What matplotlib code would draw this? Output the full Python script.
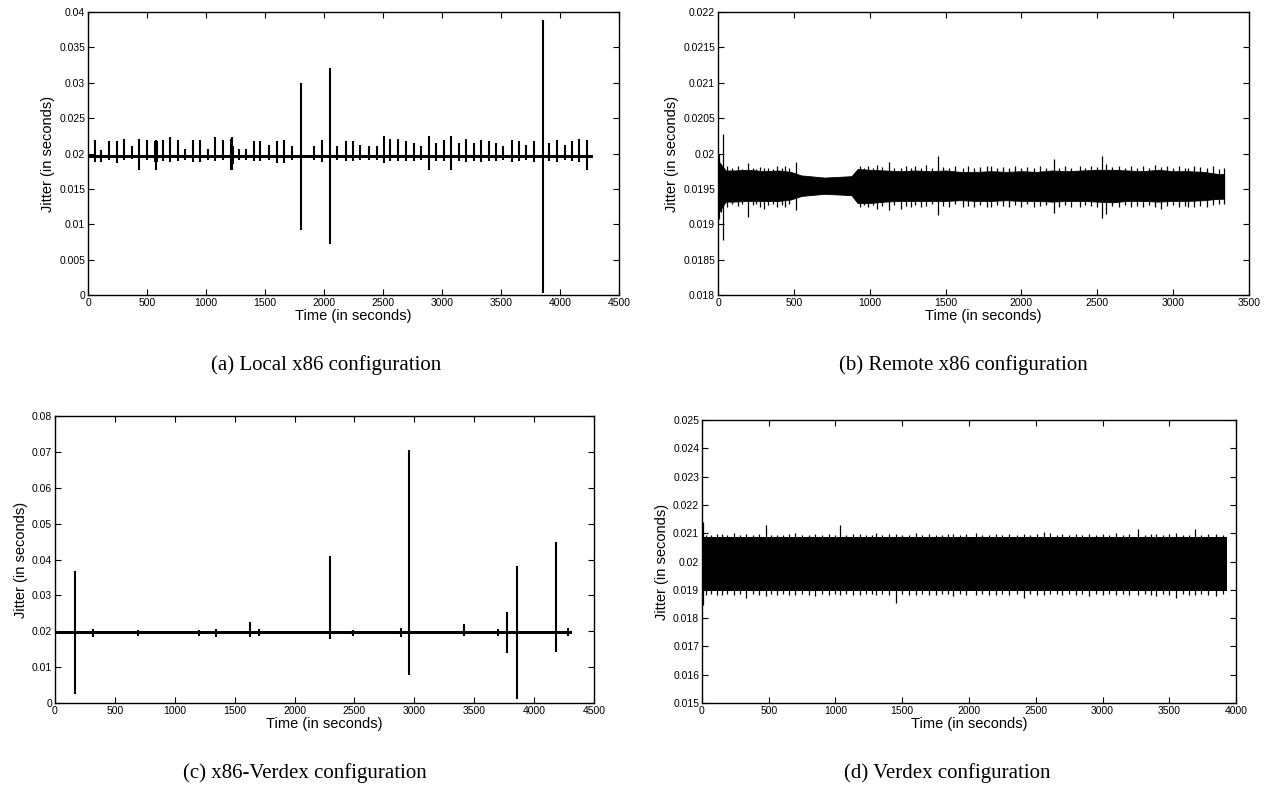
import matplotlib
matplotlib.use("Agg")
import matplotlib.pyplot as plt

W, H = 1266, 785

# ---- (a) Local x86 configuration ----
a_end = 4280
a_base_lo = 0.01940
a_base_hi = 0.01978
a_spike_t = [56, 113, 181, 243, 308, 373, 432, 503, 566, 576, 586, 633, 698, 760, 825,
             890, 952, 1014, 1076, 1144, 1212, 1220, 1228, 1277, 1342, 1404, 1460, 1531,
             1602, 1664, 1729, 1805, 1912, 1983, 2048, 2110, 2186, 2243, 2308, 2379,
             2449, 2506, 2562, 2627, 2698, 2760, 2822, 2890, 2946, 3014, 3079, 3147,
             3206, 3270, 3330, 3395, 3460, 3520, 3590, 3650, 3715, 3780, 3852, 3910,
             3975, 4040, 4100, 4165, 4230]
a_spike_hi = [0.02196, 0.02054, 0.02172, 0.02172, 0.02205, 0.02101, 0.02205, 0.02196,
              0.02180, 0.02196, 0.02170, 0.02196, 0.02228, 0.02196, 0.02068, 0.02196,
              0.02196, 0.02068, 0.02228, 0.02196, 0.02200, 0.02228, 0.02100, 0.02068,
              0.02068, 0.02172, 0.02172, 0.02125, 0.02172, 0.02196, 0.02101, 0.03000,
              0.02101, 0.02196, 0.03210, 0.02101, 0.02172, 0.02172, 0.02125, 0.02101,
              0.02101, 0.02252, 0.02205, 0.02205, 0.02172, 0.02148, 0.02101, 0.02243,
              0.02148, 0.02196, 0.02243, 0.02148, 0.02205, 0.02150, 0.02196, 0.02172,
              0.02148, 0.02101, 0.02196, 0.02172, 0.02125, 0.02172, 0.03880, 0.02148,
              0.02196, 0.02125, 0.02172, 0.02205, 0.02196]
a_spike_lo = [0.01875, 0.01875, 0.01913, 0.01866, 0.01913, 0.01922, 0.01762, 0.01913,
              0.01875, 0.01762, 0.01875, 0.01900, 0.01875, 0.01900, 0.01910, 0.01875,
              0.01875, 0.01910, 0.01900, 0.01913, 0.01762, 0.01762, 0.01850, 0.01910,
              0.01910, 0.01900, 0.01900, 0.01910, 0.01866, 0.01866, 0.01910, 0.00923,
              0.01910, 0.01875, 0.00716, 0.01910, 0.01900, 0.01900, 0.01910, 0.01910,
              0.01910, 0.01866, 0.01900, 0.01900, 0.01900, 0.01900, 0.01910, 0.01762,
              0.01900, 0.01900, 0.01762, 0.01900, 0.01875, 0.01900, 0.01875, 0.01900,
              0.01900, 0.01910, 0.01875, 0.01900, 0.01910, 0.01875, 0.00030, 0.01900,
              0.01875, 0.01910, 0.01900, 0.01875, 0.01762]

# ---- (b) Remote x86 configuration ----
b_t = [0, 50, 100, 200, 300, 400, 480, 550, 600, 700, 800, 880, 920, 1000, 1100, 1200,
       1300, 1400, 1500, 1600, 1700, 1800, 1900, 2000, 2100, 2200, 2300, 2400, 2500,
       2600, 2700, 2800, 2900, 3000, 3100, 3200, 3300, 3336]
b_hi = [0.01990, 0.01976, 0.01976, 0.01977, 0.01975, 0.01976, 0.01974, 0.01969, 0.01968,
        0.01966, 0.01967, 0.01968, 0.01978, 0.01977, 0.01976, 0.01975, 0.01976, 0.01975,
        0.01976, 0.01974, 0.01974, 0.01975, 0.01974, 0.01975, 0.01974, 0.01976, 0.01975,
        0.01976, 0.01977, 0.01977, 0.01976, 0.01975, 0.01977, 0.01975, 0.01975, 0.01974,
        0.01971, 0.01971]
b_lo = [0.01915, 0.01932, 0.01932, 0.01933, 0.01933, 0.01933, 0.01935, 0.01940, 0.01941,
        0.01943, 0.01942, 0.01941, 0.01930, 0.01930, 0.01932, 0.01933, 0.01933, 0.01933,
        0.01933, 0.01934, 0.01933, 0.01933, 0.01934, 0.01933, 0.01933, 0.01932, 0.01933,
        0.01933, 0.01932, 0.01931, 0.01933, 0.01933, 0.01932, 0.01933, 0.01933, 0.01934,
        0.01936, 0.01936]
b_spike_t = [8, 18, 35, 60, 90, 130, 160, 200, 230, 250, 280, 300, 330, 360, 390, 420,
             440, 470, 515, 935, 960, 990, 1020, 1050, 1080, 1125, 1160, 1205, 1240,
             1270, 1300, 1340, 1370, 1410, 1448, 1480, 1520, 1560, 1615, 1650, 1690,
             1730, 1770, 1800, 1840, 1880, 1920, 1960, 2000, 2040, 2080, 2120, 2160,
             2213, 2250, 2290, 2330, 2385, 2420, 2460, 2500, 2533, 2560, 2600, 2640,
             2680, 2720, 2760, 2800, 2840, 2880, 2920, 2960, 3000, 3040, 3080, 3100,
             3140, 3180, 3220, 3260, 3300, 3333]
b_spike_hi = [0.02000, 0.01985, 0.02028, 0.01983, 0.01980, 0.01982, 0.01978, 0.01986,
              0.01980, 0.01978, 0.01981, 0.01979, 0.01980, 0.01978, 0.01982, 0.01980,
              0.01982, 0.01979, 0.01988, 0.01983, 0.01980, 0.01982, 0.01979, 0.01984,
              0.01981, 0.01988, 0.01980, 0.01980, 0.01983, 0.01979, 0.01982, 0.01980,
              0.01984, 0.01979, 0.01996, 0.01981, 0.01979, 0.01983, 0.01980, 0.01982,
              0.01979, 0.01981, 0.01983, 0.01982, 0.01979, 0.01981, 0.01980, 0.01983,
              0.01979, 0.01981, 0.01980, 0.01982, 0.01979, 0.01992, 0.01980, 0.01983,
              0.01979, 0.01982, 0.01980, 0.01983, 0.01981, 0.01996, 0.01985, 0.01981,
              0.01983, 0.01979, 0.01982, 0.01980, 0.01983, 0.01979, 0.01984, 0.01981,
              0.01983, 0.01979, 0.01982, 0.01980, 0.01980, 0.01983, 0.01981, 0.01979,
              0.01982, 0.01978, 0.01980]
b_spike_lo = [0.01908, 0.01918, 0.01878, 0.01925, 0.01928, 0.01926, 0.01929, 0.01910,
              0.01927, 0.01928, 0.01925, 0.01922, 0.01927, 0.01928, 0.01925, 0.01927,
              0.01925, 0.01928, 0.01920, 0.01925, 0.01927, 0.01924, 0.01927, 0.01922,
              0.01926, 0.01920, 0.01927, 0.01922, 0.01926, 0.01924, 0.01927, 0.01925,
              0.01926, 0.01928, 0.01913, 0.01926, 0.01925, 0.01928, 0.01925, 0.01926,
              0.01924, 0.01927, 0.01925, 0.01925, 0.01927, 0.01926, 0.01924, 0.01927,
              0.01925, 0.01928, 0.01925, 0.01926, 0.01927, 0.01916, 0.01925, 0.01927,
              0.01924, 0.01925, 0.01927, 0.01926, 0.01924, 0.01909, 0.01915, 0.01926,
              0.01925, 0.01927, 0.01924, 0.01926, 0.01925, 0.01927, 0.01925, 0.01922,
              0.01926, 0.01927, 0.01924, 0.01926, 0.01925, 0.01924, 0.01926, 0.01925,
              0.01927, 0.01928, 0.01928]

# ---- (c) x86-Verdex configuration ----
c_end = 4314
c_base_lo = 0.01920
c_base_hi = 0.02000
c_spike_t = [170, 320, 690, 1200, 1340, 1625, 1700, 2299, 2490, 2885, 2952, 3412, 3700,
             3770, 3853, 4180, 4280]
c_spike_hi = [0.0368, 0.0205, 0.0203, 0.0204, 0.0206, 0.0225, 0.0205, 0.0410, 0.0204,
              0.0210, 0.0704, 0.0221, 0.0206, 0.0255, 0.0382, 0.0448, 0.0210]
c_spike_lo = [0.0025, 0.0185, 0.0188, 0.0187, 0.0185, 0.0185, 0.0188, 0.0178, 0.0187,
              0.0185, 0.0079, 0.0188, 0.0186, 0.0139, 0.0011, 0.0141, 0.0186]

# ---- (d) Verdex configuration ----
d_end = 3935
d_band_lo = 0.01895
d_band_hi = 0.02085
d_spike_t = [9, 30, 70, 110, 150, 190, 240, 285, 330, 380, 430, 480, 520, 560, 610, 650,
             700, 750, 800, 850, 900, 950, 1000, 1037, 1080, 1130, 1180, 1230, 1270,
             1300, 1350, 1400, 1450, 1500, 1550, 1600, 1650, 1700, 1750, 1800, 1840,
             1880, 1930, 1980, 2050, 2100, 2150, 2200, 2250, 2300, 2360, 2413, 2460,
             2510, 2560, 2610, 2660, 2700, 2750, 2800, 2850, 2900, 2950, 3000, 3050,
             3100, 3150, 3200, 3269, 3320, 3360, 3400, 3450, 3500, 3550, 3600, 3650,
             3691, 3740, 3790, 3850, 3900]
d_spike_hi = [0.02141, 0.02095, 0.02092, 0.02096, 0.02098, 0.02093, 0.02100, 0.02094,
              0.02097, 0.02092, 0.02096, 0.02130, 0.02093, 0.02095, 0.02092, 0.02097,
              0.02100, 0.02093, 0.02095, 0.02097, 0.02092, 0.02096, 0.02094, 0.02128,
              0.02093, 0.02096, 0.02098, 0.02092, 0.02095, 0.02100, 0.02093, 0.02097,
              0.02097, 0.02092, 0.02095, 0.02100, 0.02093, 0.02096, 0.02095, 0.02092,
              0.02097, 0.02098, 0.02093, 0.02096, 0.02102, 0.02093, 0.02095, 0.02097,
              0.02092, 0.02096, 0.02094, 0.02098, 0.02093, 0.02096, 0.02105, 0.02100,
              0.02093, 0.02098, 0.02094, 0.02096, 0.02092, 0.02097, 0.02093, 0.02096,
              0.02094, 0.02100, 0.02092, 0.02096, 0.02116, 0.02093, 0.02096, 0.02098,
              0.02092, 0.02096, 0.02100, 0.02093, 0.02095, 0.02114, 0.02093, 0.02096,
              0.02097, 0.02092]
d_spike_lo = [0.01845, 0.01880, 0.01886, 0.01883, 0.01882, 0.01886, 0.01880, 0.01884,
              0.01870, 0.01886, 0.01883, 0.01878, 0.01885, 0.01882, 0.01886, 0.01883,
              0.01880, 0.01885, 0.01883, 0.01878, 0.01886, 0.01883, 0.01885, 0.01882,
              0.01885, 0.01883, 0.01880, 0.01886, 0.01884, 0.01882, 0.01885, 0.01883,
              0.01853, 0.01885, 0.01883, 0.01880, 0.01886, 0.01883, 0.01882, 0.01886,
              0.01884, 0.01878, 0.01885, 0.01883, 0.01880, 0.01886, 0.01883, 0.01882,
              0.01885, 0.01883, 0.01886, 0.01872, 0.01885, 0.01883, 0.01880, 0.01886,
              0.01884, 0.01882, 0.01885, 0.01883, 0.01886, 0.01878, 0.01885, 0.01883,
              0.01886, 0.01880, 0.01885, 0.01883, 0.01882, 0.01885, 0.01883, 0.01878,
              0.01886, 0.01883, 0.01872, 0.01885, 0.01883, 0.01880, 0.01885, 0.01883,
              0.01878, 0.01886]

# axis ticks
a_yticks = [0, 0.005, 0.01, 0.015, 0.02, 0.025, 0.03, 0.035, 0.04]
a_ylabels = ["0", "0.005", "0.01", "0.015", "0.02", "0.025", "0.03", "0.035", "0.04"]
b_yticks = [0.018, 0.0185, 0.019, 0.0195, 0.02, 0.0205, 0.021, 0.0215, 0.022]
b_ylabels = ["0.018", "0.0185", "0.019", "0.0195", "0.02", "0.0205", "0.021", "0.0215", "0.022"]
c_yticks = [0, 0.01, 0.02, 0.03, 0.04, 0.05, 0.06, 0.07, 0.08]
c_ylabels = ["0", "0.01", "0.02", "0.03", "0.04", "0.05", "0.06", "0.07", "0.08"]
d_yticks = [0.015, 0.016, 0.017, 0.018, 0.019, 0.02, 0.021, 0.022, 0.023, 0.024, 0.025]
d_ylabels = ["0.015", "0.016", "0.017", "0.018", "0.019", "0.02", "0.021", "0.022",
             "0.023", "0.024", "0.025"]
captions = ["(a) Local x86 configuration", "(b) Remote x86 configuration",
            "(c) x86-Verdex configuration", "(d) Verdex configuration"]

SANS = "Liberation Sans"
SERIF = "Liberation Serif"


def make_axes(fig, left, top, right, bottom):
    return fig.add_axes([left / W, 1 - bottom / H, (right - left) / W, (bottom - top) / H])


def style(ax, xmax, yticks, ylabels):
    ax.set_xlim(0, xmax)
    ax.set_ylim(yticks[0], yticks[-1])
    ax.set_xticks(range(0, xmax + 1, 500))
    ax.set_xticklabels([str(v) for v in range(0, xmax + 1, 500)])
    ax.set_yticks(yticks)
    ax.set_yticklabels(ylabels)
    ax.tick_params(direction="in", length=4, width=0.8, top=True, right=True,
                   labelsize=7.5, pad=2)
    for lab in ax.get_xticklabels() + ax.get_yticklabels():
        lab.set_family(SANS)
    for sp in ax.spines.values():
        sp.set_linewidth(1.0)
    ax.set_xlabel("Time (in seconds)", family=SANS, fontsize=10.5, labelpad=1)
    ax.set_ylabel("Jitter (in seconds)", family=SANS, fontsize=10.5, labelpad=3)


fig = plt.figure(figsize=(W / 100, H / 100), dpi=100)

ax = make_axes(fig, 88, 12, 619, 295)
ax.fill_between([0, a_end], [a_base_lo] * 2, [a_base_hi] * 2, color="black", lw=0)
ax.vlines(a_spike_t, a_spike_lo, a_spike_hi, color="black", lw=1.5)
style(ax, 4500, a_yticks, a_ylabels)

ax = make_axes(fig, 718, 12, 1249, 295)
ax.fill_between(b_t, b_lo, b_hi, color="black", lw=0.6, edgecolor="black")
ax.vlines(b_spike_t, b_spike_lo, b_spike_hi, color="black", lw=0.9)
style(ax, 3500, b_yticks, b_ylabels)

ax = make_axes(fig, 55, 416, 594, 703)
ax.fill_between([0, c_end], [c_base_lo] * 2, [c_base_hi] * 2, color="black", lw=0)
ax.vlines(c_spike_t, c_spike_lo, c_spike_hi, color="black", lw=1.5)
style(ax, 4500, c_yticks, c_ylabels)

ax = make_axes(fig, 702, 420, 1236, 703)
ax.fill_between([0, d_end], [d_band_lo] * 2, [d_band_hi] * 2, color="black", lw=0)
ax.vlines(d_spike_t, d_spike_lo, d_spike_hi, color="black", lw=0.9)
style(ax, 4000, d_yticks, d_ylabels)

cap_pos = [(326, 365), (963, 365), (305, 773), (947, 773)]
for (x, y), txt in zip(cap_pos, captions):
    fig.text(x / W, 1 - y / H, txt, ha="center", va="center", family=SERIF, fontsize=15)

fig.savefig("out.png", dpi=100)
